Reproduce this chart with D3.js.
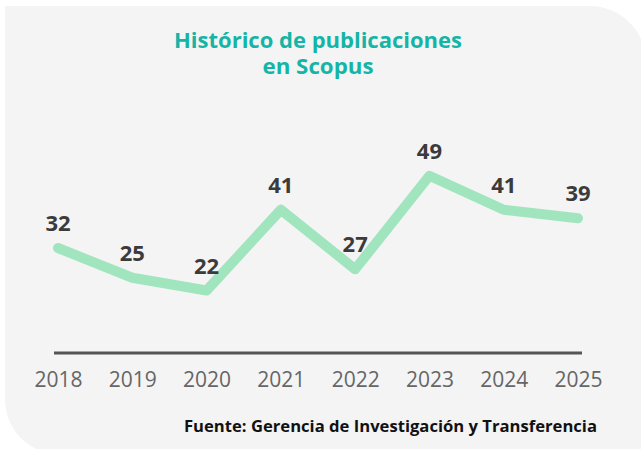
<!DOCTYPE html>
<html lang="es">
<head>
    <meta charset="UTF-8">
    <title>Histórico de publicaciones en Scopus</title>
    <script type="text/javascript" src="https://d3js.org/d3.v7.min.js"></script>
    <style>
        html, body { margin: 0; padding: 0; background: #ffffff; }
        svg { display: block; }
    </style>
</head>
<body>
<svg width="641" height="449"></svg>

<script>
    // datos
    var years = ['2018', '2019', '2020', '2021', '2022', '2023', '2024', '2025'];
    var publications = [32, 25, 22, 41, 27, 49, 41, 39];
    var titleLines = ['Histórico de publicaciones', 'en Scopus'];
    var source = 'Fuente: Gerencia de Investigación y Transferencia';

    var svg = d3.select('svg'),
        width = +svg.attr('width'),
        height = +svg.attr('height');

    var font = "'Open Sans', 'Noto Sans', sans-serif";

    // panel gris con dos esquinas redondeadas
    var L = 5, T = 6, R = 646, B = 455, r = 56;
    svg.append('path')
        .attr('d', 'M' + L + ',' + T +
            'H' + (R - r) +
            'A' + r + ',' + r + ' 0 0 1 ' + R + ',' + (T + r) +
            'V' + B +
            'H' + (L + r) +
            'A' + r + ',' + r + ' 0 0 1 ' + L + ',' + (B - r) +
            'Z')
        .attr('fill', '#f4f4f4');

    // título (ancho ajustado al original)
    var titleWidths = [288, 111];
    svg.append('g')
        .selectAll('text')
        .data(titleLines)
        .enter()
        .append('text')
        .attr('x', 318)
        .attr('y', function (d, i) { return 48 + i * 26; })
        .attr('text-anchor', 'middle')
        .attr('textLength', function (d, i) { return titleWidths[i]; })
        .attr('lengthAdjust', 'spacingAndGlyphs')
        .attr('fill', '#15b4a6')
        .attr('font-family', font)
        .attr('font-weight', 700)
        .attr('font-size', 20.5)
        .text(function (d) { return d; });

    // escalas
    var x = d3.scalePoint()
        .domain(years)
        .range([58, 578]);

    var y = d3.scaleLinear()
        .domain([0, 50])
        .range([384, 171.5]);

    // línea base
    svg.append('line')
        .attr('x1', 54)
        .attr('x2', 582)
        .attr('y1', 353)
        .attr('y2', 353)
        .attr('stroke', '#555555')
        .attr('stroke-width', 3);

    // etiquetas de años
    var xAxis = d3.axisBottom(x).tickSize(0).tickPadding(0);
    var gx = svg.append('g')
        .attr('transform', 'translate(0, 372)')
        .call(xAxis);
    gx.select('.domain').remove();
    gx.selectAll('text')
        .attr('dy', '0.71em')
        .attr('fill', '#666666')
        .attr('font-family', font)
        .attr('font-weight', 400)
        .attr('font-size', 21);

    // línea
    var line = d3.line()
        .x(function (d, i) { return x(years[i]); })
        .y(function (d) { return y(d); });

    svg.append('path')
        .datum(publications)
        .attr('d', line)
        .attr('fill', 'none')
        .attr('stroke', '#a0e5bd')
        .attr('stroke-width', 10)
        .attr('stroke-linecap', 'round')
        .attr('stroke-linejoin', 'round');

    // valores
    svg.append('g')
        .selectAll('text')
        .data(publications)
        .enter()
        .append('text')
        .attr('x', function (d, i) { return x(years[i]); })
        .attr('y', function (d) { return y(d) - 17; })
        .attr('text-anchor', 'middle')
        .attr('fill', '#3b3b3b')
        .attr('font-family', font)
        .attr('font-weight', 700)
        .attr('font-size', 22)
        .text(function (d) { return d; });

    // fuente
    svg.append('text')
        .attr('x', 597)
        .attr('y', 432)
        .attr('text-anchor', 'end')
        .attr('textLength', 413)
        .attr('lengthAdjust', 'spacingAndGlyphs')
        .attr('fill', '#111111')
        .attr('font-family', font)
        .attr('font-weight', 700)
        .attr('font-size', 15.5)
        .text(source);
</script>
</body>
</html>
